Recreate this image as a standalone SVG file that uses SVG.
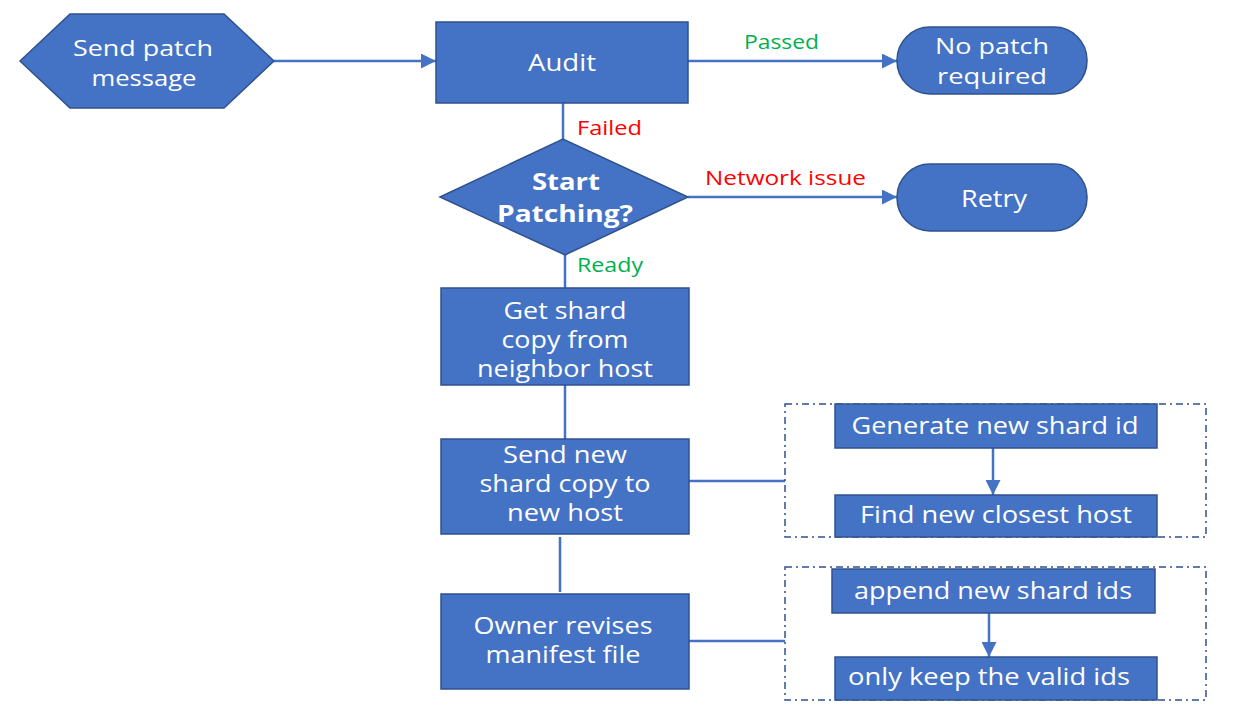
<svg xmlns="http://www.w3.org/2000/svg" width="1239" height="707" viewBox="0 0 1239 707">
<defs>
<style>
.node{fill:#4472C4;stroke:#2F528F;stroke-width:1.5}
.t{font-family:"Open Sans","DejaVu Sans",sans-serif;font-size:23px;fill:#FFFFFF;text-anchor:middle}
.s{font-size:22px}
.b{font-weight:bold;font-size:24px}
.lbl{font-family:"Open Sans","DejaVu Sans",sans-serif;font-size:20px}
.green{fill:#00B050}
.red{fill:#FF0000}
.conn{stroke:#4472C4;stroke-width:2.5;fill:none}
.dash{fill:none;stroke:#2F528F;stroke-width:1.5;stroke-dasharray:7 4 2 4}
</style>
<marker id="arr" viewBox="0 0 10 10" refX="10" refY="5" markerWidth="6" markerHeight="6" markerUnits="strokeWidth" orient="auto">
<path d="M0,0 L10,5 L0,10 z" fill="#4472C4"/>
</marker>
</defs>
<rect width="1239" height="707" fill="#FFFFFF"/>

<g id="connectors">
<line class="conn" x1="274" y1="61" x2="436" y2="61" marker-end="url(#arr)"/>
<line class="conn" x1="688" y1="61" x2="897" y2="61" marker-end="url(#arr)"/>
<line class="conn" x1="563" y1="103" x2="563" y2="139"/>
<line class="conn" x1="688" y1="197" x2="897" y2="197" marker-end="url(#arr)"/>
<line class="conn" x1="565" y1="255" x2="565" y2="288"/>
<line class="conn" x1="565" y1="385" x2="565" y2="439"/>
<line class="conn" x1="560" y1="537" x2="560" y2="592"/>
<line class="conn" x1="689" y1="481" x2="785" y2="481"/>
<line class="conn" x1="689" y1="641" x2="785" y2="641"/>
<line class="conn" x1="993" y1="448" x2="993" y2="495" marker-end="url(#arr)"/>
<line class="conn" x1="989" y1="613" x2="989" y2="657" marker-end="url(#arr)"/>
</g>

<g id="labels">
<text class="lbl green" x="744" y="49" textLength="75" lengthAdjust="spacingAndGlyphs">Passed</text>
<text class="lbl red" x="577" y="135" textLength="65" lengthAdjust="spacingAndGlyphs">Failed</text>
<text class="lbl red" x="705" y="185" textLength="161" lengthAdjust="spacingAndGlyphs">Network issue</text>
<text class="lbl green" x="577" y="272" textLength="66" lengthAdjust="spacingAndGlyphs">Ready</text>
</g>

<g id="send-patch">
<polygon class="node" points="20,61 70,14 224,14 274,61 224,108 70,108"/>
<text class="t s" x="143" y="56" textLength="140" lengthAdjust="spacingAndGlyphs">Send patch</text>
<text class="t s" x="144" y="86" textLength="105" lengthAdjust="spacingAndGlyphs">message</text>
</g>

<g id="audit">
<rect class="node" x="436" y="22" width="252" height="81"/>
<text class="t" x="562" y="71" textLength="68" lengthAdjust="spacingAndGlyphs">Audit</text>
</g>

<g id="no-patch">
<rect class="node" x="897" y="27" width="190" height="67" rx="33" ry="33"/>
<text class="t s" x="992" y="54" textLength="114" lengthAdjust="spacingAndGlyphs">No patch</text>
<text class="t s" x="992" y="84" textLength="110" lengthAdjust="spacingAndGlyphs">required</text>
</g>

<g id="start-patching">
<polygon class="node" points="440,197 563,139 688,197 565,255"/>
<text class="t b" x="566" y="190" textLength="68" lengthAdjust="spacingAndGlyphs">Start</text>
<text class="t b" x="565" y="222" textLength="136" lengthAdjust="spacingAndGlyphs">Patching?</text>
</g>

<g id="retry">
<rect class="node" x="897" y="164" width="190" height="67" rx="33" ry="33"/>
<text class="t" x="994" y="207" textLength="66" lengthAdjust="spacingAndGlyphs">Retry</text>
</g>

<g id="get-shard">
<rect class="node" x="441" y="288" width="248" height="97"/>
<text class="t" x="565" y="319" textLength="123" lengthAdjust="spacingAndGlyphs">Get shard</text>
<text class="t" x="565" y="348" textLength="127" lengthAdjust="spacingAndGlyphs">copy from</text>
<text class="t" x="565" y="377" textLength="176" lengthAdjust="spacingAndGlyphs">neighbor host</text>
</g>

<g id="send-new">
<rect class="node" x="441" y="439" width="248" height="95"/>
<text class="t" x="565" y="463" textLength="124" lengthAdjust="spacingAndGlyphs">Send new</text>
<text class="t" x="565" y="492" textLength="171" lengthAdjust="spacingAndGlyphs">shard copy to</text>
<text class="t" x="565" y="521" textLength="116" lengthAdjust="spacingAndGlyphs">new host</text>
</g>

<g id="owner">
<rect class="node" x="441" y="594" width="248" height="95"/>
<text class="t" x="563" y="634" textLength="179" lengthAdjust="spacingAndGlyphs">Owner revises</text>
<text class="t" x="563" y="663" textLength="155" lengthAdjust="spacingAndGlyphs">manifest file</text>
</g>

<g id="group-new-host">
<rect class="dash" x="785" y="404" width="421" height="133"/>
</g>

<g id="generate-id">
<rect class="node" x="835" y="404" width="322" height="44"/>
<text class="t" x="995" y="434" textLength="287" lengthAdjust="spacingAndGlyphs">Generate new shard id</text>
</g>

<g id="find-host">
<rect class="node" x="835" y="495" width="322" height="42"/>
<text class="t" x="996" y="523" textLength="272" lengthAdjust="spacingAndGlyphs">Find new closest host</text>
</g>

<g id="group-manifest">
<rect class="dash" x="785" y="567" width="421" height="133"/>
</g>

<g id="append-ids">
<rect class="node" x="832" y="569" width="323" height="44"/>
<text class="t" x="993" y="599" textLength="278" lengthAdjust="spacingAndGlyphs">append new shard ids</text>
</g>

<g id="keep-valid">
<rect class="node" x="835" y="657" width="322" height="43"/>
<text class="t" x="989" y="685" textLength="282" lengthAdjust="spacingAndGlyphs">only keep the valid ids</text>
</g>
</svg>
